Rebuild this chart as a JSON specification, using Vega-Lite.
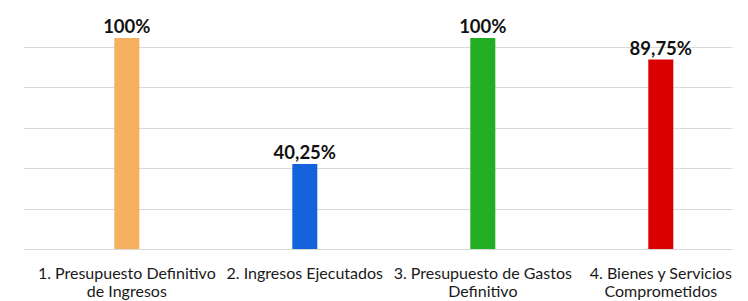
{
  "$schema": "https://vega.github.io/schema/vega-lite/v6.json",
  "autosize": {"type": "none"},
  "width": 709,
  "height": 249,
  "padding": {"left": 23, "top": 0, "right": 16, "bottom": 52},
  "background": "white",
  "config": {
    "view": {"stroke": null},
    "locale": {"number": {"decimal": ",", "thousands": ".", "grouping": [3], "currency": ["", " €"]}}
  },
  "data": {
    "values": [
      {"cat": "1. Presupuesto Definitivo|de Ingresos", "value": 1.0},
      {"cat": "2. Ingresos Ejecutados", "value": 0.4025},
      {"cat": "3. Presupuesto de Gastos|Definitivo", "value": 1.0},
      {"cat": "4. Bienes y Servicios|Comprometidos", "value": 0.8975}
    ]
  },
  "encoding": {
    "x": {
      "field": "cat",
      "type": "nominal",
      "sort": null,
      "scale": {"paddingInner": 0.2, "paddingOuter": 0.0916, "align": 1},
      "axis": {
        "title": null,
        "labelAngle": 0,
        "labelExpr": "split(datum.label, '|')",
        "labelFont": "Lato",
        "labelFontSize": 16,
        "labelColor": "#1a1a1a",
        "labelLineHeight": 18,
        "labelPadding": 16,
        "ticks": false,
        "domain": false,
        "labelLimit": 300
      }
    },
    "y": {
      "field": "value",
      "type": "quantitative",
      "scale": {"domain": [0, 1.18], "nice": false},
      "axis": {
        "title": null,
        "labels": false,
        "ticks": false,
        "domain": false,
        "values": [0, 0.1915, 0.383, 0.5745, 0.766, 0.9575],
        "gridColor": "#d9d9d9",
        "gridWidth": 1
      }
    }
  },
  "layer": [
    {
      "mark": {"type": "bar", "width": 25},
      "encoding": {
        "color": {
          "field": "cat",
          "type": "nominal",
          "sort": null,
          "scale": {"range": ["#F5B060", "#1462DC", "#22AE22", "#D80000"]},
          "legend": null
        }
      }
    },
    {
      "mark": {"type": "text", "baseline": "bottom", "dy": -1, "font": "Lato", "fontWeight": "bold", "fontSize": 18.5, "color": "#111111"},
      "encoding": {
        "text": {"field": "value", "type": "quantitative", "format": ".2~%"}
      }
    }
  ]
}
